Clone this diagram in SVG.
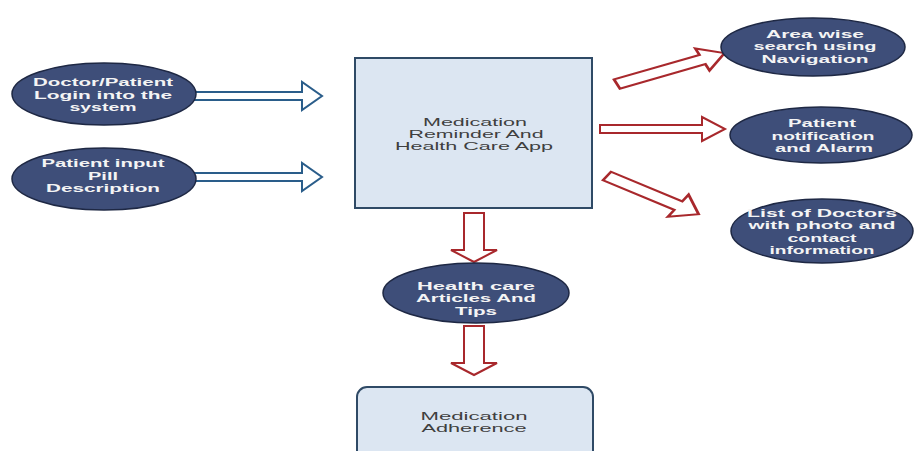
<svg xmlns="http://www.w3.org/2000/svg" width="922" height="451" viewBox="0 0 922 451">
<style>
.bg{fill:#ffffff}
.ell{fill:#3e4e79;stroke:#1e2844;stroke-width:1.5}
.et{font-family:"Liberation Sans",Arial,sans-serif;font-weight:bold;font-size:11px;fill:#f4f4f4;text-anchor:middle}
.box{fill:#dce6f2;stroke:#2f4a66;stroke-width:2}
.bt{font-family:"Liberation Sans",Arial,sans-serif;font-size:10.5px;fill:#3f3f3f;text-anchor:middle}
.ba{fill:#ffffff;stroke:#2a5d8a;stroke-width:2;stroke-linejoin:miter}
.ra{fill:#ffffff;stroke:#a8282c;stroke-width:2;stroke-linejoin:miter}
</style>
<rect class="bg" x="0" y="0" width="922" height="451"/>

<g id="connectors">
  <polygon class="ba" points="190,92 302,92 302,82 322,96 302,110 302,100 190,100"/>
  <polygon class="ba" points="190,173 302,173 302,163 322,177 302,191 302,181 190,181"/>
  <polygon class="ra" transform="translate(617,84) scale(1.5,1) rotate(-23.3)" points="0,-5 62,-5 62,-12 78,0 62,12 62,5 0,5"/>
  <polygon class="ra" points="600,125 702,125 702,117 725,129 702,141 702,133 600,133"/>
  <polygon class="ra" transform="translate(607,176) scale(1.5,1) rotate(32)" points="0,-5 56,-5 56,-13 72,0 56,13 56,5 0,5"/>
  <polygon class="ra" points="464,213 484,213 484,250 497,250 474,262 451,250 464,250"/>
  <polygon class="ra" points="464,326 484,326 484,363 497,363 474,375 451,363 464,363"/>
</g>

<g id="node-login">
  <ellipse class="ell" cx="104" cy="94" rx="92" ry="31"/>
  <text class="et" x="103" y="86" textLength="140" lengthAdjust="spacingAndGlyphs">Doctor/Patient</text>
  <text class="et" x="103" y="98.7" textLength="138" lengthAdjust="spacingAndGlyphs">Login into the</text>
  <text class="et" x="103" y="111.4" textLength="67" lengthAdjust="spacingAndGlyphs">system</text>
</g>

<g id="node-pill">
  <ellipse class="ell" cx="104" cy="179" rx="92" ry="31"/>
  <text class="et" x="103" y="167" textLength="123" lengthAdjust="spacingAndGlyphs">Patient input</text>
  <text class="et" x="103" y="179.7" textLength="30" lengthAdjust="spacingAndGlyphs">Pill</text>
  <text class="et" x="103" y="192.4" textLength="114" lengthAdjust="spacingAndGlyphs">Description</text>
</g>

<g id="node-app">
  <rect class="box" x="355" y="58" width="237" height="150"/>
  <text class="bt" x="475" y="126" textLength="104" lengthAdjust="spacingAndGlyphs">Medication</text>
  <text class="bt" x="476" y="138.2" textLength="135" lengthAdjust="spacingAndGlyphs">Reminder And</text>
  <text class="bt" x="474" y="150.4" textLength="158" lengthAdjust="spacingAndGlyphs">Health Care App</text>
</g>

<g id="node-area">
  <ellipse class="ell" cx="813" cy="47" rx="92" ry="29"/>
  <text class="et" x="815" y="37.5" textLength="98" lengthAdjust="spacingAndGlyphs">Area wise</text>
  <text class="et" x="815" y="50" textLength="123" lengthAdjust="spacingAndGlyphs">search using</text>
  <text class="et" x="815" y="62.5" textLength="107" lengthAdjust="spacingAndGlyphs">Navigation</text>
</g>

<g id="node-notification">
  <ellipse class="ell" cx="821" cy="135" rx="91" ry="28"/>
  <text class="et" x="822" y="126.8" textLength="68" lengthAdjust="spacingAndGlyphs">Patient</text>
  <text class="et" x="823" y="139.5" textLength="103" lengthAdjust="spacingAndGlyphs">notification</text>
  <text class="et" x="824" y="152.2" textLength="98" lengthAdjust="spacingAndGlyphs">and Alarm</text>
</g>

<g id="node-doctors">
  <ellipse class="ell" cx="822" cy="231" rx="91" ry="32"/>
  <text class="et" x="822" y="217" textLength="150" lengthAdjust="spacingAndGlyphs">List of Doctors</text>
  <text class="et" x="822" y="229.4" textLength="147" lengthAdjust="spacingAndGlyphs">with photo and</text>
  <text class="et" x="822" y="241.8" textLength="69" lengthAdjust="spacingAndGlyphs">contact</text>
  <text class="et" x="822" y="254.2" textLength="105" lengthAdjust="spacingAndGlyphs">information</text>
</g>

<g id="node-articles">
  <ellipse class="ell" cx="476" cy="293" rx="93" ry="30"/>
  <text class="et" x="476" y="289.5" textLength="118" lengthAdjust="spacingAndGlyphs">Health care</text>
  <text class="et" x="476" y="302.2" textLength="120" lengthAdjust="spacingAndGlyphs">Articles And</text>
  <text class="et" x="476" y="314.9" textLength="42" lengthAdjust="spacingAndGlyphs">Tips</text>
</g>

<g id="node-adherence">
  <rect class="box" x="357" y="387" width="236" height="75" rx="10" ry="10"/>
  <text class="bt" x="474" y="419.5" textLength="107" lengthAdjust="spacingAndGlyphs">Medication</text>
  <text class="bt" x="474" y="432" textLength="105" lengthAdjust="spacingAndGlyphs">Adherence</text>
</g>
</svg>
